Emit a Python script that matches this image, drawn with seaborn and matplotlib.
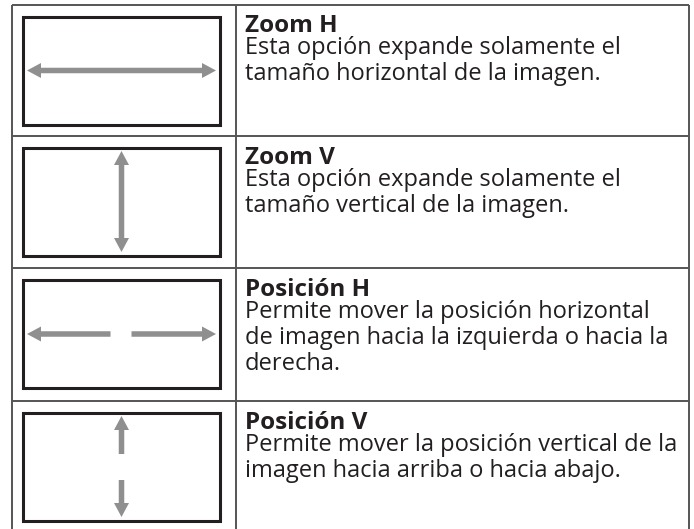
import matplotlib
matplotlib.use("Agg")
import matplotlib.pyplot as plt
import numpy as np
import seaborn as sns

# table content
titles = ["Zoom H", "Zoom V", "Posición H", "Posición V"]
descriptions = [
    ["Esta opción expande solamente el", "tamaño horizontal de la imagen."],
    ["Esta opción expande solamente el", "tamaño vertical de la imagen."],
    ["Permite mover la posición horizontal",
     "de imagen hacia la izquierda o hacia la",
     "derecha."],
    ["Permite mover la posición vertical de la",
     "imagen hacia arriba o hacia abajo."],
]
# kind of arrow icon drawn in the left cell
arrow_kinds = ["h_both", "v_both", "h_split", "v_split"]

# layout (pixels)
W, H = 694, 529
row_tops = [4.5, 136, 268, 401]
x_left, x_mid, x_right = 12, 236, 689
box_x0, box_x1 = 23, 220
box_off, box_h = 12, 108

sns.set_theme(style="white")
plt.rcParams["font.family"] = ["Open Sans", "DejaVu Sans"]

fig = plt.figure(figsize=(W / 100, H / 100), dpi=100)
ax = fig.add_axes([0, 0, 1, 1])
ax.set_xlim(0, W)
ax.set_ylim(H, 0)
ax.set_axis_off()

line_col = "#555555"
box_col = "#231f20"
arrow_col = "#8f8f8f"
text_col = "#231f20"

# table grid
ax.hlines(row_tops, x_left, x_right, color=line_col, lw=1.4)
ax.vlines([x_left, x_mid, x_right], row_tops[0], H, color=line_col, lw=1.4)

SHAFT, HEAD_W, HEAD_L = 5.5, 15, 14


def arrow(p0, p1, both=False):
    # arrow shape as one polygon (head at p1, optionally also at p0)
    p0, p1 = np.array(p0, float), np.array(p1, float)
    d = (p1 - p0) / np.linalg.norm(p1 - p0)
    n = np.array([-d[1], d[0]])
    s, h = SHAFT / 2, HEAD_W / 2
    a = p0 + d * HEAD_L if both else p0
    b = p1 - d * HEAD_L
    pts = [a + n * s, b + n * s, b + n * h, p1, b - n * h, b - n * s, a - n * s]
    if both:
        pts += [a - n * h, p0, a + n * h]
    ax.add_patch(plt.Polygon(pts, closed=True, fc=arrow_col, ec="none"))


for top, title, lines, kind in zip(row_tops, titles, descriptions, arrow_kinds):
    by0 = top + box_off
    by1 = by0 + box_h
    ax.add_patch(plt.Rectangle((box_x0, by0), box_x1 - box_x0, box_h,
                               fill=False, ec=box_col, lw=2.2))
    cx = (box_x0 + box_x1) / 2
    cy = (by0 + by1) / 2
    if kind == "h_both":
        arrow((box_x0 + 4, cy), (box_x1 - 4, cy), both=True)
    elif kind == "v_both":
        arrow((cx, by0 + 3), (cx, by1 - 4), both=True)
    elif kind == "h_split":
        arrow((cx - 11, cy), (box_x0 + 4, cy))
        arrow((cx + 10, cy), (box_x1 - 4, cy))
    else:
        arrow((cx, cy - 13), (cx, by0 + 3))
        arrow((cx, cy + 13), (cx, by1 - 4))

    ax.text(245, top + 28, title, fontsize=17.5, fontweight="bold",
            color=text_col, va="baseline", ha="left")
    for i, ln in enumerate(lines):
        ax.text(245, top + 50 + 26 * i, ln, fontsize=17,
                color=text_col, va="baseline", ha="left")

fig.savefig("out.png", dpi=100)
